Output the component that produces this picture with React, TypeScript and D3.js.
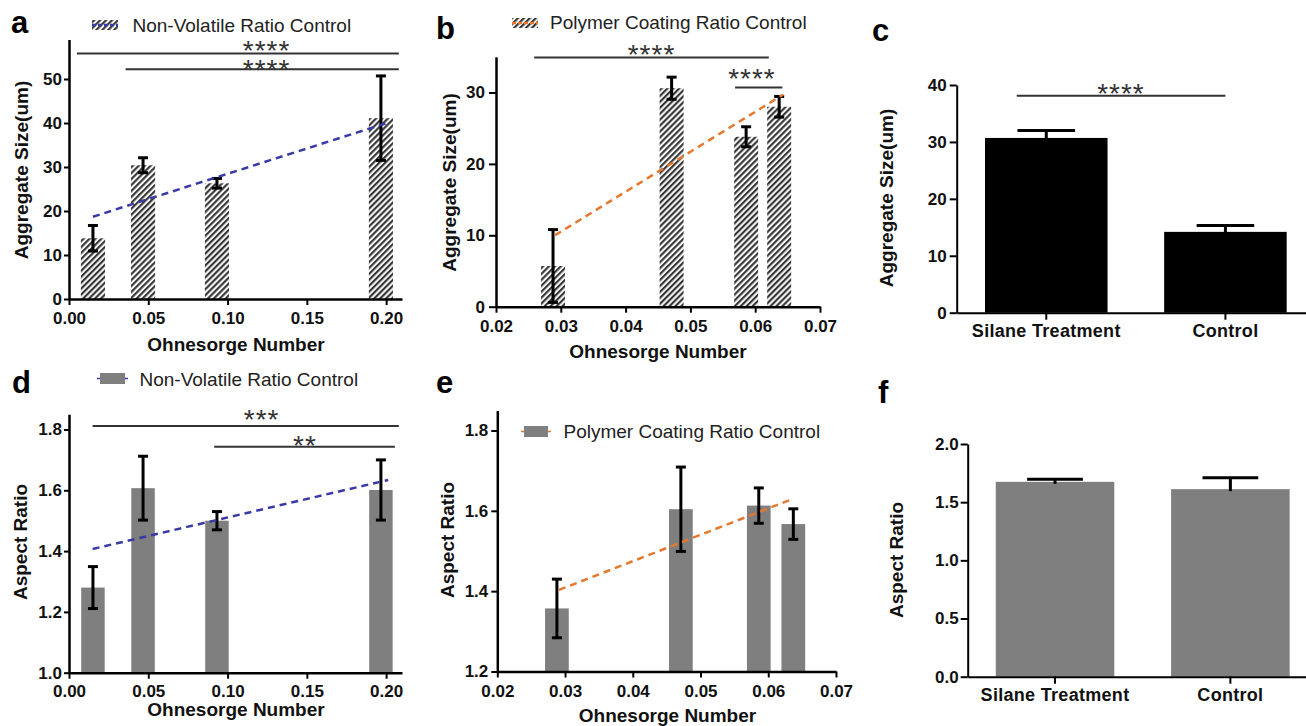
import { useEffect, useRef } from 'react'
import * as d3 from 'd3'

const FONT = "'Liberation Sans', Arial, Helvetica, sans-serif"

// a / d : Non-Volatile Ratio Control
const nvOhnesorge = [0.0151, 0.0467, 0.0933, 0.1967]
const nvSize = [13.8, 30.4, 26.3, 41.1]
const nvSizeSd = [2.9, 1.7, 1.1, 9.6]
const nvSizeFit = [[0.0151, 18.7], [0.2013, 40.1]]
const nvAspect = [1.28, 1.607, 1.5, 1.601]
const nvAspectSd = [0.069, 0.105, 0.03, 0.099]
const nvAspectFit = [[0.0149, 1.407], [0.2013, 1.634]]

// b / e : Polymer Coating Ratio Control
const pcOhnesorge = [0.0288, 0.0471, 0.0586, 0.0637]
const pcSize = [5.7, 30.6, 23.8, 28.0]
const pcSizeSd = [5.1, 1.55, 1.4, 1.45]
const pcSizeFit = [[0.0291, 10.0], [0.0643, 29.7]]
const pcAspect = [1.357, 1.604, 1.613, 1.567]
const pcAspectSd = [0.073, 0.105, 0.044, 0.038]
const pcAspectFit = [[0.0291, 1.403], [0.0632, 1.627]]

// c / f : treatment comparison
const treatments = ['Silane Treatment', 'Control']
const treatSize = [30.7, 14.2]
const treatSizeErr = [1.3, 1.1]
const treatAspect = [1.675, 1.612]
const treatAspectErr = [0.023, 0.098]

// ticks
const ohTicksWide = [0, 0.05, 0.1, 0.15, 0.2]
const ohTicksNarrow = [0.02, 0.03, 0.04, 0.05, 0.06, 0.07]
const sizeTicksA = [0, 10, 20, 30, 40, 50]
const sizeTicksB = [0, 10, 20, 30]
const sizeTicksC = [0, 10, 20, 30, 40]
const aspectTicksD = [1.0, 1.2, 1.4, 1.6, 1.8]
const aspectTicksE = [1.2, 1.4, 1.6, 1.8]
const aspectTicksF = [0, 0.5, 1.0, 1.5, 2.0]

// significance brackets (data units)
const sigA = [
  { x0: 0.005, x1: 0.208, y: 55.8, sx: 0.1246, sy: 57.8, label: '****' },
  { x0: 0.0357, x1: 0.208, y: 52.2, sx: 0.1246, sy: 53.6, label: '****' },
]
const sigB = [
  { x0: 0.0259, x1: 0.0621, y: 34.9, sx: 0.044, sy: 36.2, label: '****' },
  { x0: 0.0569, x1: 0.0642, y: 30.7, sx: 0.0595, sy: 32.8, label: '****' },
]
const sigD = [
  { x0: 0.0149, x1: 0.208, y: 1.8115, sx: 0.1215, sy: 1.854, label: '***' },
  { x0: 0.0916, x1: 0.2055, y: 1.743, sx: 0.1488, sy: 1.768, label: '**' },
]
// for band panels x is in group-index units (0 = first bar centre)
const sigC = [{ x0: -0.165, x1: 1.0, y: 38.1, sx: 0.417, sy: 39.5, label: '****' }]

const BLUE = '#3a3aa6'
const ORANGE = '#e5782e'
const GRAY = '#7f7f7f'

function styleAxis(sel, fontSize, width) {
  sel.select('.domain').attr('stroke', '#000').attr('stroke-width', width)
  sel.selectAll('.tick line').attr('stroke', '#000').attr('stroke-width', 2)
  sel.selectAll('text')
    .attr('font-size', fontSize)
    .attr('font-weight', 'bold')
    .attr('font-family', FONT)
    .attr('fill', '#111')
}

function stars(g, x, y, s) {
  g.append('line')
    .attr('x1', x(s.x0)).attr('x2', x(s.x1))
    .attr('y1', y(s.y)).attr('y2', y(s.y))
    .attr('stroke', '#333').attr('stroke-width', 2)
  g.append('text')
    .attr('x', x(s.sx)).attr('y', y(s.sy) + 15.5)
    .attr('text-anchor', 'middle')
    .attr('font-family', FONT).attr('font-size', 28)
    .attr('letter-spacing', 1)
    .attr('fill', '#333')
    .text(s.label)
}

function yTitle(svg, text, bx, cy) {
  svg.append('text')
    .attr('transform', `translate(${bx},${cy}) rotate(-90)`)
    .attr('text-anchor', 'middle')
    .attr('font-family', FONT).attr('font-size', 19).attr('font-weight', 'bold')
    .attr('fill', '#111')
    .text(text)
}

function xTitle(svg, text, cx, by) {
  svg.append('text')
    .attr('x', cx).attr('y', by)
    .attr('text-anchor', 'middle')
    .attr('font-family', FONT).attr('font-size', 19).attr('font-weight', 'bold')
    .attr('fill', '#111')
    .text(text)
}

function numericPanel(svg, o) {
  const x = d3.scaleLinear().domain(o.xDomain).range([o.left, o.right])
  const y = d3.scaleLinear().domain(o.yDomain).range([o.bottom, o.top])
  const g = svg.append('g')
  const base = o.yDomain[0]

  g.selectAll('rect.bar').data(o.xs).join('rect')
    .attr('class', 'bar')
    .attr('x', d => x(d - o.barW / 2))
    .attr('width', d => x(d + o.barW / 2) - x(d - o.barW / 2))
    .attr('y', (d, i) => y(o.vals[i]))
    .attr('height', (d, i) => y(base) - y(o.vals[i]))
    .attr('fill', o.fill)

  const eb = g.selectAll('g.err').data(o.xs).join('g').attr('class', 'err')
  eb.append('line')
    .attr('x1', d => x(d)).attr('x2', d => x(d))
    .attr('y1', (d, i) => y(o.vals[i] - o.sds[i]))
    .attr('y2', (d, i) => y(o.vals[i] + o.sds[i]))
  eb.append('line')
    .attr('x1', d => x(d) - 5).attr('x2', d => x(d) + 5)
    .attr('y1', (d, i) => y(o.vals[i] + o.sds[i]))
    .attr('y2', (d, i) => y(o.vals[i] + o.sds[i]))
  eb.append('line')
    .attr('x1', d => x(d) - 5).attr('x2', d => x(d) + 5)
    .attr('y1', (d, i) => y(o.vals[i] - o.sds[i]))
    .attr('y2', (d, i) => y(o.vals[i] - o.sds[i]))
  eb.selectAll('line').attr('stroke', '#000').attr('stroke-width', 3)

  g.append('path')
    .attr('d', d3.line().x(d => x(d[0])).y(d => y(d[1]))(o.fit))
    .attr('fill', 'none')
    .attr('stroke', o.fitColor)
    .attr('stroke-width', 2.5)
    .attr('stroke-dasharray', '7,5')

  const ax = g.append('g')
    .attr('transform', `translate(0,${o.bottom})`)
    .call(d3.axisBottom(x).tickValues(o.xTicks).tickFormat(d3.format('.2f'))
      .tickSize(6).tickSizeOuter(0).tickPadding(o.xPad))
  styleAxis(ax, 17, 2.5)

  const ay = g.append('g')
    .attr('transform', `translate(${o.left},0)`)
    .call(d3.axisLeft(y).tickValues(o.yTicks).tickFormat(o.yFmt)
      .tickSize(o.yTick).tickSizeOuter(0).tickPadding(o.yPad))
  styleAxis(ay, 17, 2.5)

  o.sig.forEach(s => stars(g, x, y, s))
}

function bandPanel(svg, o) {
  const x = d3.scaleBand().domain(treatments).range([o.left, o.right])
    .paddingInner(o.pin).paddingOuter(o.pout)
  const y = d3.scaleLinear().domain(o.yDomain).range([o.bottom, o.top])
  const g = svg.append('g')
  const bw = x.bandwidth()
  const cx = name => x(name) + bw / 2

  g.selectAll('rect.bar').data(treatments).join('rect')
    .attr('x', d => x(d)).attr('width', bw)
    .attr('y', (d, i) => y(o.vals[i]))
    .attr('height', (d, i) => y(0) - y(o.vals[i]))
    .attr('fill', o.fill)

  const eb = g.selectAll('g.err').data(treatments).join('g').attr('class', 'err')
  eb.append('line')
    .attr('x1', d => cx(d)).attr('x2', d => cx(d))
    .attr('y1', (d, i) => y(o.vals[i]) + 2)
    .attr('y2', (d, i) => y(o.vals[i] + o.errs[i]))
  eb.append('line')
    .attr('x1', d => cx(d) - bw * 0.235).attr('x2', d => cx(d) + bw * 0.235)
    .attr('y1', (d, i) => y(o.vals[i] + o.errs[i]))
    .attr('y2', (d, i) => y(o.vals[i] + o.errs[i]))
  eb.selectAll('line').attr('stroke', '#000').attr('stroke-width', 3)

  const ax = g.append('g')
    .attr('transform', `translate(0,${o.bottom})`)
    .call(d3.axisBottom(x).tickSize(7).tickSizeOuter(0).tickPadding(o.xPad))
  styleAxis(ax, 18, 2)
  ax.selectAll('text').attr('letter-spacing', 0.3)

  const ay = g.append('g')
    .attr('transform', `translate(${o.left},0)`)
    .call(d3.axisLeft(y).tickValues(o.yTicks).tickFormat(o.yFmt)
      .tickSize(7).tickSizeOuter(0).tickPadding(o.yPad))
  styleAxis(ay, 17, 2)

  const c0 = cx(treatments[0])
  const c1 = cx(treatments[1])
  const xi = t => c0 + t * (c1 - c0)
  o.sig.forEach(s => stars(g, xi, y, s))
}

function letter(svg, t, x, y) {
  svg.append('text').attr('x', x).attr('y', y)
    .attr('font-family', FONT).attr('font-size', 31).attr('font-weight', 'bold')
    .attr('fill', '#000').text(t)
}

function legend(svg, o) {
  const g = svg.append('g')
  const cy = o.y + o.h / 2
  if (o.hatch) {
    g.append('rect').attr('x', o.x).attr('y', o.y).attr('width', o.w).attr('height', o.h)
      .attr('fill', 'url(#hatch)')
    g.append('line').attr('x1', o.x).attr('x2', o.x + o.w).attr('y1', cy).attr('y2', cy)
      .attr('stroke', o.color).attr('stroke-width', 2.5).attr('stroke-dasharray', '4,2')
  } else {
    g.append('line').attr('x1', o.x - 3).attr('x2', o.x + o.w + 3).attr('y1', cy).attr('y2', cy)
      .attr('stroke', o.color).attr('stroke-width', 1.5)
    g.append('rect').attr('x', o.x).attr('y', o.y).attr('width', o.w).attr('height', o.h)
      .attr('fill', GRAY)
  }
  g.append('text').attr('x', o.tx).attr('y', o.ty)
    .attr('font-family', FONT).attr('font-size', 19).attr('fill', '#222')
    .text(o.text)
}

export default function App() {
  const ref = useRef(null)

  useEffect(() => {
    const svg = d3.select(ref.current)
    svg.selectAll('*').remove()

    const pat = svg.append('defs').append('pattern')
      .attr('id', 'hatch').attr('patternUnits', 'userSpaceOnUse')
      .attr('width', 4.2).attr('height', 4.2)
      .attr('patternTransform', 'rotate(45)')
    pat.append('rect').attr('width', 4.2).attr('height', 4.2).attr('fill', '#f6f6f6')
    pat.append('line').attr('x1', 1.1).attr('x2', 1.1).attr('y1', 0).attr('y2', 4.2)
      .attr('stroke', '#2b2b2b').attr('stroke-width', 2)

    // a
    numericPanel(svg, {
      left: 69, right: 402, bottom: 299, top: 39.4,
      xDomain: [0, 0.21], yDomain: [0, 59],
      xTicks: ohTicksWide, yTicks: sizeTicksA, yFmt: d3.format('d'),
      xs: nvOhnesorge, vals: nvSize, sds: nvSizeSd, fit: nvSizeFit, fitColor: BLUE,
      barW: 0.0152, fill: 'url(#hatch)', sig: sigA, xPad: 7, yTick: 5, yPad: 2,
    })
    // b
    numericPanel(svg, {
      left: 496, right: 820, bottom: 306.7, top: 56.8,
      xDomain: [0.02, 0.07], yDomain: [0, 35],
      xTicks: ohTicksNarrow, yTicks: sizeTicksB, yFmt: d3.format('d'),
      xs: pcOhnesorge, vals: pcSize, sds: pcSizeSd, fit: pcSizeFit, fitColor: ORANGE,
      barW: 0.0037, fill: 'url(#hatch)', sig: sigB, xPad: 7, yTick: 7, yPad: 4,
    })
    // c
    bandPanel(svg, {
      left: 956.7, right: 1315, bottom: 312.7, top: 85,
      pin: 0.316, pout: 0.158, yDomain: [0, 40], yTicks: sizeTicksC, yFmt: d3.format('d'),
      vals: treatSize, errs: treatSizeErr, fill: '#000', sig: sigC, xPad: 5, yPad: 3,
    })
    // d
    numericPanel(svg, {
      left: 69, right: 402, bottom: 672.7, top: 414.3,
      xDomain: [0, 0.21], yDomain: [1.0, 1.85],
      xTicks: ohTicksWide, yTicks: aspectTicksD, yFmt: d3.format('.1f'),
      xs: nvOhnesorge, vals: nvAspect, sds: nvAspectSd, fit: nvAspectFit, fitColor: BLUE,
      barW: 0.0148, fill: GRAY, sig: sigD, xPad: 6, yTick: 5, yPad: 2,
    })
    // e
    numericPanel(svg, {
      left: 497.3, right: 836, bottom: 671.5, top: 410.4,
      xDomain: [0.02, 0.07], yDomain: [1.2, 1.85],
      xTicks: ohTicksNarrow, yTicks: aspectTicksE, yFmt: d3.format('.1f'),
      xs: pcOhnesorge, vals: pcAspect, sds: pcAspectSd, fit: pcAspectFit, fitColor: ORANGE,
      barW: 0.0035, fill: GRAY, sig: [], xPad: 7, yTick: 6, yPad: 3,
    })
    // f
    bandPanel(svg, {
      left: 967.7, right: 1317.7, bottom: 676.7, top: 444,
      pin: 0.324, pout: 0.16, yDomain: [0, 2], yTicks: aspectTicksF, yFmt: d3.format('.1f'),
      vals: treatAspect, errs: treatAspectErr, fill: GRAY, sig: [], xPad: 5, yPad: 2,
    })

    yTitle(svg, 'Aggregate Size(um)', 27.5, 170)
    yTitle(svg, 'Aggregate Size(um)', 456, 182.5)
    yTitle(svg, 'Aggregate Size(um)', 892.5, 198)
    yTitle(svg, 'Aspect Ratio', 27, 542)
    yTitle(svg, 'Aspect Ratio', 453.5, 540)
    yTitle(svg, 'Aspect Ratio', 902.5, 560)

    xTitle(svg, 'Ohnesorge Number', 236, 351)
    xTitle(svg, 'Ohnesorge Number', 658, 358)
    xTitle(svg, 'Ohnesorge Number', 236, 716)
    xTitle(svg, 'Ohnesorge Number', 667.5, 722)

    legend(svg, { x: 92, y: 20, w: 26, h: 10, hatch: true, color: BLUE,
      tx: 132.5, ty: 31.5, text: 'Non-Volatile Ratio Control' })
    legend(svg, { x: 512, y: 18, w: 26, h: 10, hatch: true, color: ORANGE,
      tx: 550, ty: 28.5, text: 'Polymer Coating Ratio Control' })
    legend(svg, { x: 100, y: 373, w: 25, h: 11, hatch: false, color: BLUE,
      tx: 139.5, ty: 386, text: 'Non-Volatile Ratio Control' })
    legend(svg, { x: 524, y: 426, w: 24, h: 11, hatch: false, color: ORANGE,
      tx: 563.5, ty: 437.5, text: 'Polymer Coating Ratio Control' })

    letter(svg, 'a', 11, 33)
    letter(svg, 'b', 436, 39)
    letter(svg, 'c', 872, 41)
    letter(svg, 'd', 12, 393)
    letter(svg, 'e', 436, 393)
    letter(svg, 'f', 878, 403)
  }, [])

  return (
    <svg
      ref={ref}
      width={1306}
      height={726}
      style={{ position: 'absolute', left: 0, top: 0, background: '#fff' }}
    />
  )
}
